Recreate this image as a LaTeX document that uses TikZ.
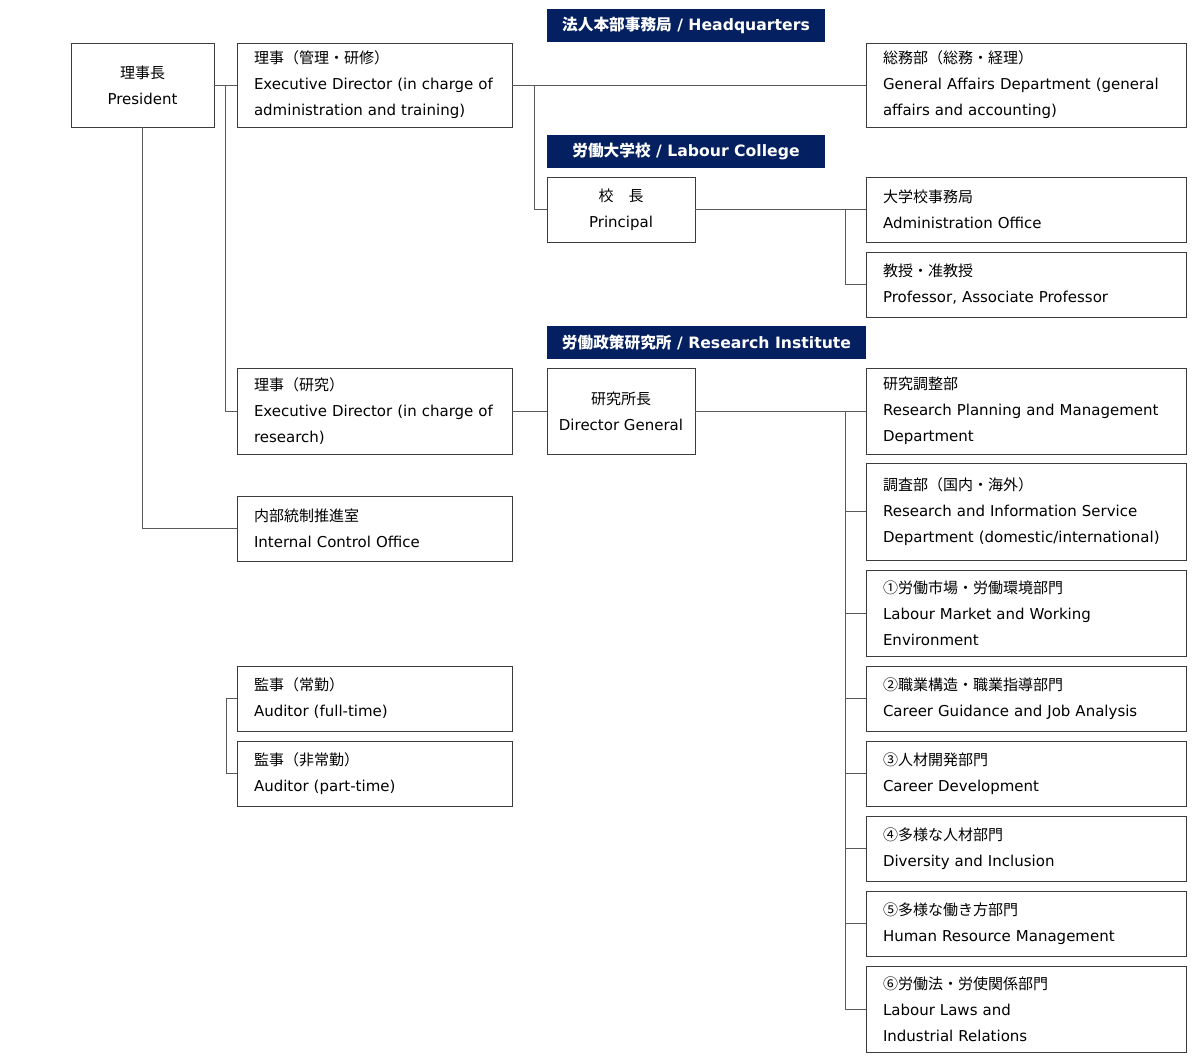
\documentclass[tikz,border=0pt]{standalone}
\usepackage{fontspec}
\setmainfont{DejaVu Sans}
\newfontfamily\jpfont{Noto Sans CJK JP}
\newcommand{\jtext}[1]{{\jpfont #1}}
\usetikzlibrary{positioning,calc}
\definecolor{bannerblue}{RGB}{4,32,96}
\definecolor{boxline}{RGB}{60,60,60}
\definecolor{linkcol}{RGB}{90,90,90}

\begin{document}
\begin{tikzpicture}[
    x=0.75pt, y=-0.75pt,
    unit/.style={draw=boxline, line width=0.75pt, inner xsep=12.75pt, inner ysep=0pt, outer sep=0pt,
                 align=left, text width=#1, font=\fontsize{11.25}{19.5}\selectfont},
    narrow/.style={unit=180.75pt, minimum height=#1},
    wide/.style={unit=214.5pt, minimum height=#1},
    head/.style={draw=boxline, line width=0.75pt, inner sep=0pt, outer sep=0pt, align=center,
                 minimum width=#1, font=\fontsize{11.25}{19.5}\selectfont},
    banner/.style={fill=bannerblue, text=white, minimum width=#1, minimum height=24.75pt,
                   anchor=north west, inner sep=0pt, outer sep=0pt, font=\fontsize{11.75}{13}\selectfont\bfseries},
    link/.style={draw=linkcol, line width=0.75pt},
]
\useasboundingbox (0,0) rectangle (1198,1060);

% ============ TOP: President and Executive Director ============
\node[head=107.25pt, minimum height=63pt, anchor=north west] (pres) at (71,43) {\jtext{理事長}\\President};
\node[narrow=63pt, right=17.25pt of pres] (edadm) {\jtext{理事（管理・研修）}\\Executive Director (in charge of\\administration and training)};

% ============ HEADQUARTERS ============
\node[banner=208.5pt] (hqbar) at (547,9) {\jtext{法人本部事務局} / Headquarters};
\node[wide=63pt, anchor=north west] (ga) at (866,43) {\jtext{総務部（総務・経理）}\\General Affairs Department (general\\affairs and accounting)};

% ============ LABOUR COLLEGE ============
\node[banner=208.5pt] (lcbar) at (547,135) {\jtext{労働大学校} / Labour College};
\node[head=111pt, minimum height=48.75pt, anchor=north west] (prin) at (547,177) {\jtext{校　長}\\Principal};
\node[wide=48.75pt, anchor=north west] (adm) at (866,177) {\jtext{大学校事務局}\\Administration Office};
\node[wide=48.75pt, below=7.5pt of adm] (prof) {\jtext{教授・准教授}\\Professor, Associate Professor};

% ============ RESEARCH INSTITUTE ============
\node[banner=239.25pt] (ribar) at (547,326) {\jtext{労働政策研究所} / Research Institute};
\node[narrow=64.5pt, anchor=north west] (edres) at (237,368) {\jtext{理事（研究）}\\Executive Director (in charge of\\research)};
\node[head=111pt, minimum height=64.5pt, right=26.25pt of edres] (dg) {\jtext{研究所長}\\Director General};
\node[wide=64.5pt, anchor=north west] (rp) at (866,368) {\jtext{研究調整部}\\Research Planning and Management\\Department};
\node[wide=72.75pt, below=6.75pt of rp] (ris) {\jtext{調査部（国内・海外）}\\Research and Information Service\\Department (domestic/international)};
\node[wide=64.5pt, below=7.5pt of ris] (mkt) {\jtext{①労働市場・労働環境部門}\\Labour Market and Working\\Environment};
\node[wide=48.75pt, below=7.5pt of mkt] (car) {\jtext{②職業構造・職業指導部門}\\Career Guidance and Job Analysis};
\node[wide=48.75pt, below=7.5pt of car] (cdev) {\jtext{③人材開発部門}\\Career Development};
\node[wide=48.75pt, below=7.5pt of cdev] (div) {\jtext{④多様な人材部門}\\Diversity and Inclusion};
\node[wide=48.75pt, below=7.5pt of div] (hrm) {\jtext{⑤多様な働き方部門}\\Human Resource Management};
\node[wide=64.5pt, below=7.5pt of hrm] (law) {\jtext{⑥労働法・労使関係部門}\\Labour Laws and\\Industrial Relations};

% ============ INTERNAL CONTROL / AUDITORS ============
\node[narrow=48.75pt, anchor=north west] (ico) at (237,496) {\jtext{内部統制推進室}\\Internal Control Office};
\node[narrow=48.75pt, anchor=north west] (audf) at (237,666) {\jtext{監事（常勤）}\\Auditor (full-time)};
\node[narrow=48.75pt, below=7.5pt of audf] (audp) {\jtext{監事（非常勤）}\\Auditor (part-time)};

% ============ CONNECTORS ============
\draw[link] (pres.east) -- (edadm.west);
\draw[link] ($(pres.east)!0.5!(edadm.west)$) |- (edres.west);
\draw[link] (pres.south) |- (ico.west);
\draw[link] (edadm.east) -- (ga.west);
\draw[link] (edadm.east) ++(22,0) |- (prin.west);
\draw[link] (prin.east) -- (adm.west);
\draw[link] (adm.west) ++(-21,0) |- (prof.west);
\draw[link] (edres.east) -- (dg.west);
\draw[link] (dg.east) -- (rp.west);
\draw[link] (rp.west) ++(-21,0) |- (law.west);
\foreach \dept in {ris,mkt,car,cdev,div,hrm}
  \draw[link] (\dept.west) -- ++(-21,0);
\draw[link] (audf.west) -- ++(-11,0) |- (audp.west);

\end{tikzpicture}
\end{document}
